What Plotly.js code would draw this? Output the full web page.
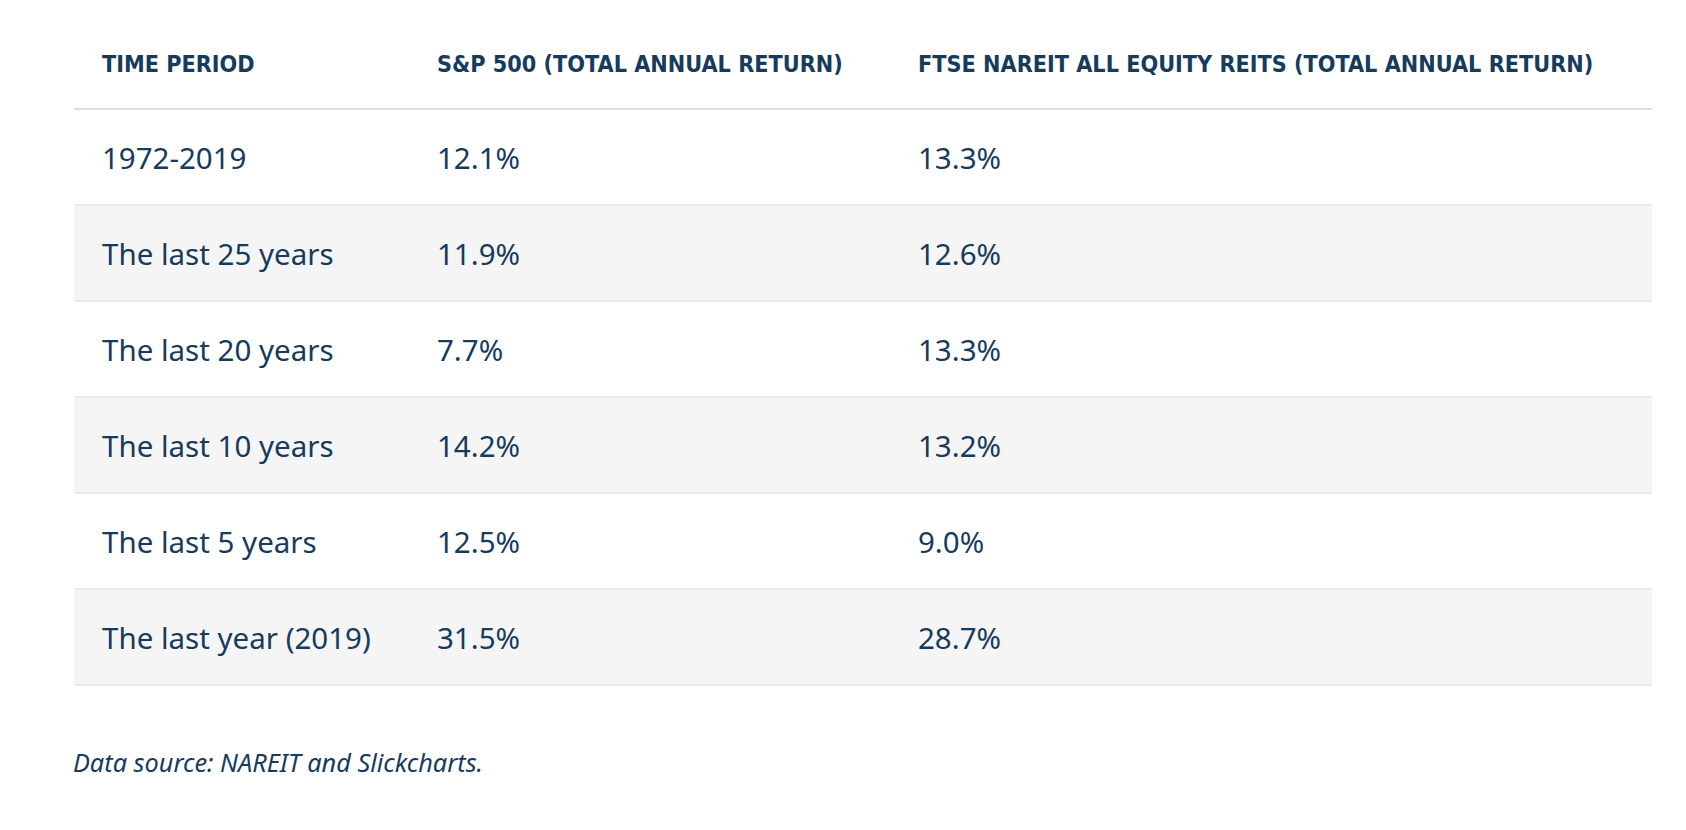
<!DOCTYPE html>
<html>
<head>
<meta charset="utf-8">
<script src="https://cdn.plot.ly/plotly-3.0.1.min.js"></script>
<style>
  html, body { margin: 0; padding: 0; background: #ffffff; }
  #chart { width: 1686px; height: 830px; }
</style>
</head>
<body>
<div id="chart"></div>
<script>
// ---- data ----
const headers = ['TIME PERIOD', 'S&P 500 (TOTAL ANNUAL RETURN)', 'FTSE NAREIT ALL EQUITY REITS (TOTAL ANNUAL RETURN)'];
const periods = ['1972-2019', 'The last 25 years', 'The last 20 years', 'The last 10 years', 'The last 5 years', 'The last year (2019)'];
const sp500 = [12.1, 11.9, 7.7, 14.2, 12.5, 31.5];
const reits = [13.3, 12.6, 13.3, 13.2, 9.0, 28.7];
const source = 'Data source: NAREIT and Slickcharts.';

// ---- layout constants ----
const W = 1686, H = 830;
const tableWidth = 1578;           // x-axis units = pixels
const colX = [28, 363, 844];       // text start of each column
const headerY = -0.445;
const textShift = 0.045;           // optical centring of text in a row
const navy = '#163b5d';
const bodyFont = 'Noto Sans, Open Sans, sans-serif';
const headFont = 'DejaVu Sans Condensed, DejaVu Sans, sans-serif';

const rowY = periods.map((_, i) => i + 0.5);
const textY = rowY.map(v => v + textShift);
const fmt = v => v.toFixed(1) + '%';

const traces = [];

// striped row bands (every second row)
const bandY = rowY.filter((_, i) => i % 2 === 1);
traces.push({
  type: 'bar', orientation: 'h',
  y: bandY, x: bandY.map(() => tableWidth + 40), base: -20,
  width: 1,
  marker: { color: '#f5f5f5', line: { color: '#ebebeb', width: 2 } },
  hoverinfo: 'skip', showlegend: false
});

// header row
traces.push({
  type: 'scatter', mode: 'text',
  x: colX, y: headers.map(() => headerY), text: headers,
  textposition: 'middle right',
  textfont: { family: headFont, size: 23.2, color: navy, weight: 700 },
  hoverinfo: 'skip', showlegend: false
});

// body columns
const columns = [periods, sp500.map(fmt), reits.map(fmt)];
columns.forEach((col, c) => {
  traces.push({
    type: 'scatter', mode: 'text',
    x: col.map(() => colX[c]), y: textY, text: col,
    textposition: 'middle right',
    textfont: { family: bodyFont, size: 29.5, color: navy },
    hoverinfo: 'skip', showlegend: false
  });
});

const layout = {
  width: W, height: H,
  margin: { l: 74, r: W - 74 - tableWidth, t: 13, b: 49, pad: 0 },
  paper_bgcolor: '#ffffff', plot_bgcolor: '#ffffff',
  showlegend: false, hovermode: false, bargap: 0,
  xaxis: {
    range: [0, tableWidth], showgrid: false, zeroline: false,
    showticklabels: false, ticks: '', showline: false, fixedrange: true
  },
  yaxis: {
    range: [periods.length + 1, -1],
    tickmode: 'array', tickvals: periods.map((_, i) => i + 1),
    showgrid: true, gridcolor: '#ebebeb', gridwidth: 2,
    zeroline: true, zerolinecolor: '#dcdcdc', zerolinewidth: 2,
    showticklabels: false, ticks: '', showline: false, fixedrange: true
  },
  annotations: [{
    xref: 'paper', yref: 'paper', x: -0.002, y: 0.025,
    xanchor: 'left', yanchor: 'middle', showarrow: false,
    text: source,
    font: { family: bodyFont, size: 25.3, color: navy, style: 'italic' }
  }]
};

Plotly.newPlot('chart', traces, layout, { staticPlot: true, displayModeBar: false });
</script>
</body>
</html>
